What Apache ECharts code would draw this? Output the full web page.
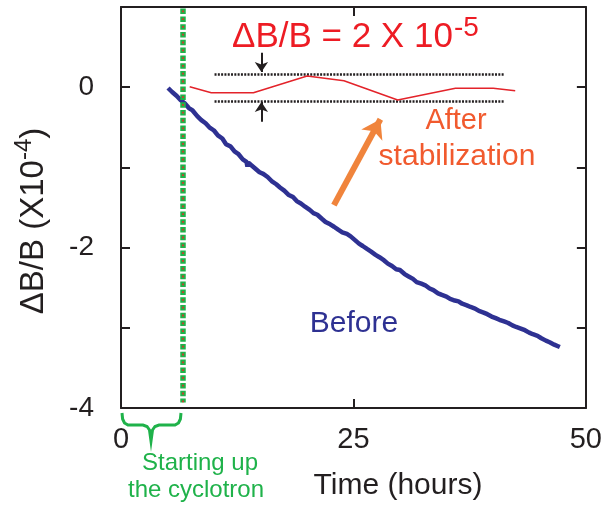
<!DOCTYPE html>
<html>
<head>
<meta charset="utf-8">
<script src="https://cdn.jsdelivr.net/npm/echarts@6/dist/echarts.min.js"></script>
<style>
html, body { margin: 0; padding: 0; background: #fff; }
#main { width: 605px; height: 505px; }
</style>
</head>
<body>
<div id="main"></div>
<script>
// measured drift before stabilization (hours, dB/B x1e-4)
var beforeHours = [5.06, 5.5, 6.0, 6.4, 6.85, 7.3, 7.7, 8.2, 8.64, 9.1, 9.5, 9.6, 10.0, 10.42, 10.9, 11.3, 11.8, 12.21, 12.6, 13.1, 13.5, 13.6, 13.7, 13.99, 14.4, 14.9, 15.3, 15.77, 16.2, 16.7, 17.1, 17.56, 18.0, 18.5, 18.9, 19.35, 19.8, 20.3, 20.7, 21.12, 21.6, 22.0, 22.5, 22.91, 23.4, 23.8, 24.3, 24.7, 25.2, 25.6, 26.0, 26.5, 26.9, 27.38, 27.8, 28.3, 28.7, 29.15, 29.6, 30.0, 30.5, 30.94, 31.4, 31.8, 32.3, 32.73, 33.2, 33.6, 34.1, 34.51, 35.0, 35.4, 35.9, 36.3, 36.7, 37.2, 37.6, 38.08, 38.5, 39.0, 39.4, 39.86, 40.3, 40.7, 41.2, 41.65, 42.1, 42.5, 43.0, 43.44, 43.9, 44.3, 44.8, 45.21, 45.7, 46.1, 46.6, 47.0, 47.2];
var beforeValues = [-0.01, -0.06, -0.11, -0.16, -0.20, -0.26, -0.29, -0.36, -0.41, -0.45, -0.50, -0.48, -0.54, -0.60, -0.64, -0.71, -0.74, -0.80, -0.83, -0.90, -0.93, -0.99, -0.94, -0.97, -1.01, -1.06, -1.08, -1.12, -1.17, -1.21, -1.25, -1.29, -1.34, -1.37, -1.42, -1.45, -1.49, -1.53, -1.57, -1.59, -1.64, -1.68, -1.71, -1.74, -1.78, -1.81, -1.83, -1.86, -1.91, -1.95, -1.98, -2.02, -2.05, -2.09, -2.12, -2.16, -2.20, -2.23, -2.27, -2.28, -2.33, -2.36, -2.39, -2.43, -2.45, -2.47, -2.51, -2.53, -2.57, -2.59, -2.61, -2.64, -2.66, -2.67, -2.70, -2.72, -2.74, -2.76, -2.79, -2.81, -2.83, -2.86, -2.88, -2.90, -2.92, -2.94, -2.97, -2.99, -3.01, -3.03, -3.06, -3.08, -3.10, -3.13, -3.16, -3.18, -3.21, -3.23, -3.24];

// after stabilization trace
var afterHours = [7.39, 9.71, 14.24, 20.02, 23.98, 29.76, 35.97, 40.04, 42.40];
var afterValues = [0.006, -0.069, -0.069, 0.14, 0.081, -0.16, -0.014, -0.014, -0.044];

// band limits and markers
var bandX = [10.06, 41.2];
var bandUpper = 0.165;
var bandLower = -0.172;
var cyclotronStart = 6.6;
var arrowX = 15.1;

var xTicks = [0, 25, 50];
var yTicks = [-4, -2, 0];

var dom = document.getElementById('main');
var myChart = echarts.init(dom);

var beforeData = beforeHours.map(function (h, i) { return [h, beforeValues[i]]; });
var afterData = afterHours.map(function (h, i) { return [h, afterValues[i]]; });

var FONT = 'Liberation Sans, Arial, sans-serif';
var axisBase = {
    axisLine: { onZero: false, lineStyle: { color: '#231f20', width: 2 } },
    axisTick: { inside: true, length: 9, lineStyle: { color: '#231f20', width: 2 } },
    splitLine: { show: false }
};

option = {
    backgroundColor: '#fff',
    animation: false,
    grid: { left: 121, right: 17, top: 7, bottom: 97 },
    xAxis: [
        Object.assign({
            type: 'value', min: 0, max: 50, interval: 25, position: 'bottom',
            axisLabel: {
                fontSize: 29, color: '#231f20', fontFamily: FONT, margin: 17,
                formatter: function (v) { return xTicks.indexOf(v) >= 0 ? v : ''; }
            }
        }, axisBase),
        Object.assign({
            type: 'value', min: 0, max: 50, interval: 25, position: 'top',
            axisLabel: { show: false }
        }, axisBase)
    ],
    yAxis: [
        Object.assign({
            type: 'value', min: -4, max: 1, interval: 1, position: 'left',
            axisLabel: {
                fontSize: 28, color: '#231f20', fontFamily: FONT, margin: 27,
                formatter: function (v) { return yTicks.indexOf(v) >= 0 ? v : ''; }
            }
        }, axisBase),
        Object.assign({
            type: 'value', min: -4, max: 1, interval: 1, position: 'right',
            axisLabel: { show: false }
        }, axisBase)
    ],
    series: [
        {
            name: 'Before', type: 'line', data: beforeData, showSymbol: false,
            lineStyle: { color: '#2e3192', width: 4.5 }, z: 3
        },
        {
            name: 'After', type: 'line', data: afterData, showSymbol: false,
            lineStyle: { color: '#e3232a', width: 1.5 }, z: 3
        },
        {
            type: 'lines', coordinateSystem: 'cartesian2d', z: 2,
            lineStyle: { color: '#231f20', width: 2.5, type: [2, 1.3], opacity: 1 },
            data: [
                { coords: [[bandX[0], bandUpper], [bandX[1], bandUpper]] },
                { coords: [[bandX[0], bandLower], [bandX[1], bandLower]] }
            ]
        },
        {
            type: 'lines', coordinateSystem: 'cartesian2d', z: 4,
            symbol: ['none', 'arrow'], symbolSize: [9, 10],
            lineStyle: { color: '#231f20', width: 2, opacity: 1 },
            data: [
                { coords: [[arrowX, 0.43], [arrowX, 0.19]] },
                { coords: [[arrowX, -0.43], [arrowX, -0.185]] }
            ]
        },
        {
            type: 'lines', coordinateSystem: 'cartesian2d', z: 4,
            symbol: ['none', 'arrow'], symbolSize: [18, 18],
            lineStyle: { color: '#f0843c', width: 6, opacity: 1 },
            data: [
                { coords: [[22.9, -1.47], [27.9, -0.40]] }
            ]
        },
        {
            type: 'lines', coordinateSystem: 'cartesian2d', z: 5,
            lineStyle: { color: '#1fb24a', width: 5.5, type: [5.5, 2.3], opacity: 1 },
            data: [{ coords: [[cyclotronStart, 0.98], [cyclotronStart, -3.93]] }]
        },
        {
            type: 'lines', coordinateSystem: 'cartesian2d', z: 6,
            lineStyle: { color: '#d9342b', width: 1.8, type: [1.8, 6.0], dashOffset: 6.0, opacity: 1 },
            data: [{ coords: [[cyclotronStart, 0.98], [cyclotronStart, -3.93]] }]
        }
    ],
    graphic: [
        {
            type: 'text', x: 31, y: 221, rotation: Math.PI / 2,
            style: {
                text: '{m|ΔB/B (X10}{s|-4}{m|)}',
                align: 'center', verticalAlign: 'middle',
                rich: {
                    m: { fontSize: 33, fontFamily: FONT, fill: '#231f20', lineHeight: 38, verticalAlign: 'bottom' },
                    s: { fontSize: 24, fontFamily: FONT, fill: '#231f20', lineHeight: 38, verticalAlign: 'top' }
                }
            }
        },
        {
            type: 'text', x: 398, y: 486,
            style: { text: 'Time (hours)', fontSize: 30, fontFamily: FONT, fill: '#231f20', align: 'center', verticalAlign: 'middle' }
        },
        {
            type: 'text', x: 232, y: 37,
            style: { text: 'ΔB/B = 2 X 10', fontSize: 35, fontFamily: FONT, fill: '#ed1c24', align: 'left', verticalAlign: 'middle' }
        },
        {
            type: 'text', x: 454, y: 28,
            style: { text: '-5', fontSize: 28, fontFamily: FONT, fill: '#ed1c24', align: 'left', verticalAlign: 'middle' }
        },
        {
            type: 'text', x: 456, y: 121,
            style: { text: 'After', fontSize: 29, fontFamily: FONT, fill: '#f15a2e', align: 'center', verticalAlign: 'middle' }
        },
        {
            type: 'text', x: 457, y: 157,
            style: { text: 'stabilization', fontSize: 30, fontFamily: FONT, fill: '#f15a2e', align: 'center', verticalAlign: 'middle' }
        },
        {
            type: 'text', x: 354, y: 324,
            style: { text: 'Before', fontSize: 30, fontFamily: FONT, fill: '#2e3192', align: 'center', verticalAlign: 'middle' }
        },
        {
            type: 'polyline',
            shape: { points: [[122, 413], [122.6, 419], [124.5, 423], [128, 425], [143, 425], [147, 426.5], [149.5, 430], [151, 441], [152.5, 430], [155, 426.5], [159, 425], [175, 425], [178.5, 423], [180.4, 419], [181, 413]] },
            style: { fill: null, stroke: '#1fb24a', lineWidth: 3 }
        },
        {
            type: 'text', x: 200, y: 463,
            style: { text: 'Starting up', fontSize: 24, fontFamily: FONT, fill: '#1fb24a', align: 'center', verticalAlign: 'middle' }
        },
        {
            type: 'text', x: 196, y: 490,
            style: { text: 'the cyclotron', fontSize: 24, fontFamily: FONT, fill: '#1fb24a', align: 'center', verticalAlign: 'middle' }
        }
    ]
};

myChart.setOption(option, true);
</script>
</body>
</html>
